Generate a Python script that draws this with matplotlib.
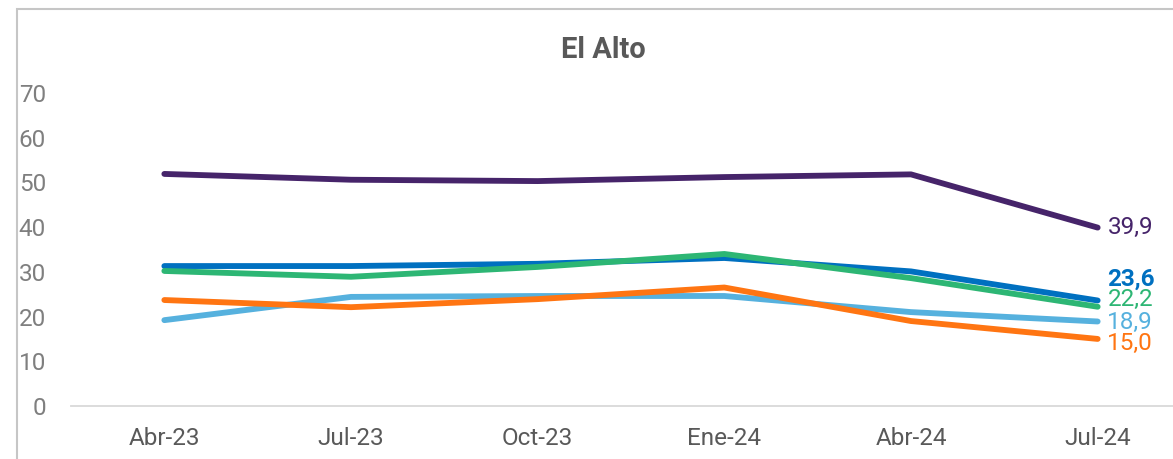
import matplotlib
matplotlib.use('Agg')
import matplotlib.pyplot as plt
from matplotlib.patches import Rectangle

plt.rcParams['font.family'] = ['Roboto', 'DejaVu Sans']

periodos = ['Abr-23', 'Jul-23', 'Oct-23', 'Ene-24', 'Abr-24', 'Jul-24']

morado = [51.9, 50.6, 50.3, 51.2, 51.8, 39.9]
azul = [31.3, 31.3, 31.8, 33.1, 30.1, 23.6]
verde = [30.2, 28.9, 31.1, 34.0, 28.6, 22.2]
naranja = [23.7, 22.1, 23.9, 26.5, 19.0, 15.0]
celeste = [19.2, 24.4, 24.6, 24.6, 21.0, 18.9]

# (values, colour, label weight, label shift in points)
series = [
    (morado, '#46246a', 'normal', 0),
    (azul, '#0070c0', 'bold', 15.5),
    (verde, '#2db674', 'normal', 5),
    (celeste, '#56b1de', 'normal', -0.5),
    (naranja, '#ff7512', 'normal', -3.5),
]

fig = plt.figure(figsize=(11.73, 4.59), dpi=100)
W, H = 1173, 459
# plot area in pixels: x from 71 to 1190, y from 93 (70) to 406 (0)
ax = fig.add_axes([71 / W, (H - 406) / H, 1120 / W, 313 / H])

x = list(range(len(periodos)))
for vals, color, weight, dy in series:
    ax.plot(x, vals, color=color, lw=4.2, solid_capstyle='round',
            solid_joinstyle='round', clip_on=False)
    ax.annotate(f'{vals[-1]:.1f}'.replace('.', ','), (x[-1], vals[-1]),
                xytext=(7, dy), textcoords='offset points',
                ha='left', va='center', color=color, fontsize=17.5,
                fontweight=weight)

ax.set_xlim(-0.5, 5.5)
ax.set_ylim(0, 70)
ax.set_xticks(x)
ax.set_xticklabels(periodos)
ax.set_yticks(range(0, 71, 10))

for s in ['top', 'right', 'left']:
    ax.spines[s].set_visible(False)
ax.spines['bottom'].set_color('#d9d9d9')
ax.spines['bottom'].set_linewidth(1.3)
ax.tick_params(axis='both', length=0, labelsize=17.5, labelcolor='#7f7f7f')
ax.tick_params(axis='x', pad=15, labelcolor='#595959')
ax.tick_params(axis='y', pad=18)

fig.text(603 / W, 1 - 50 / H, 'El Alto', ha='center', va='center',
         fontsize=21, fontweight='bold', color='#595959')

# chart frame
fig.patches.append(Rectangle((17 / W, -0.1), 1.2, 1 - 9 / H + 0.1,
                             transform=fig.transFigure, fill=False,
                             edgecolor='#c6c6c6', lw=1.5))

fig.savefig('out.png', dpi=100)
